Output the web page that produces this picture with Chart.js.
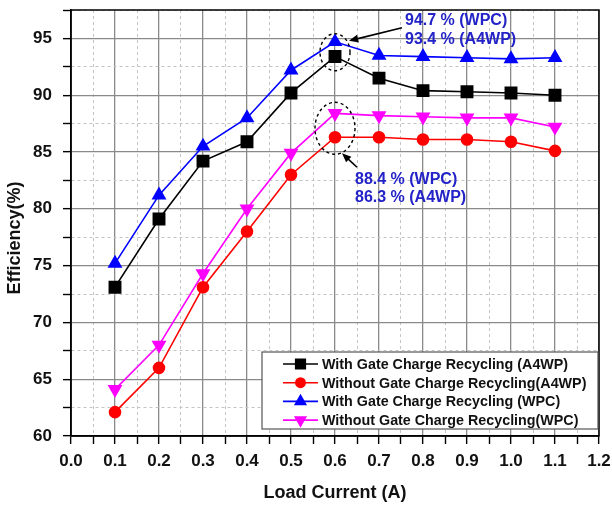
<!DOCTYPE html>
<html>
<head>
<meta charset="utf-8">
<script src="https://cdn.jsdelivr.net/npm/chart.js"></script>
<style>
html, body { margin: 0; padding: 0; background: #fff; }
</style>
</head>
<body>
<canvas id="eff-chart" width="612" height="506"></canvas>
<script>
// data
const loadCurrent = [0.1, 0.2, 0.3, 0.4, 0.5, 0.6, 0.7, 0.8, 0.9, 1.0, 1.1];
const withA4WP = [73.1, 79.1, 84.2, 85.9, 90.2, 93.4, 91.5, 90.4, 90.3, 90.2, 90.0];
const withoutA4WP = [62.1, 66.0, 73.1, 78.0, 83.0, 86.3, 86.3, 86.1, 86.1, 85.9, 85.1];
const withWPC = [75.2, 81.2, 85.5, 88.0, 92.2, 94.7, 93.5, 93.4, 93.3, 93.2, 93.3];
const withoutWPC = [64.1, 68.0, 74.3, 80.0, 84.9, 88.4, 88.2, 88.1, 88.0, 88.0, 87.2];
const seriesLabels = [
    'With Gate Charge Recycling (A4WP)',
    'Without Gate Charge Recycling(A4WP)',
    'With Gate Charge Recycling (WPC)',
    'Without Gate Charge Recycling(WPC)'
];
const xTickLabels = ['0.0', '0.1', '0.2', '0.3', '0.4', '0.5', '0.6', '0.7', '0.8', '0.9', '1.0', '1.1', '1.2'];
const yTickLabels = ['60', '65', '70', '75', '80', '85', '90', '95'];
const yTitle = 'Efficiency(%)';
const peakLoad = 0.6;
const peakNotes = ['94.7 % (WPC)', '93.4 % (A4WP)'];
const lowNotes = ['88.4 % (WPC)', '86.3 % (A4WP)'];

const FONT = "'Liberation Sans', Arial, sans-serif";
const MAJOR = '#8a8a8a';
const MINOR = '#c4c4c4';

function pts(vals) {
    return loadCurrent.map((x, i) => ({ x: x, y: vals[i] }));
}

function series(label, vals, color, style, radius, rot) {
    return {
        label: label,
        data: pts(vals),
        borderColor: color,
        backgroundColor: color,
        pointBackgroundColor: color,
        pointBorderColor: color,
        pointStyle: style,
        pointRadius: radius,
        pointRotation: rot || 0,
        borderWidth: 1.6,
        tension: 0
    };
}

// no automatic label padding, the plot box is fixed
function noPad(s) {
    s.paddingTop = 0;
    s.paddingBottom = 0;
    s.paddingLeft = 0;
    s.paddingRight = 0;
}

// frame, y title, dashed ellipses, arrows and the notes
const notesPlugin = {
    id: 'notes',
    afterDatasetsDraw(chart) {
        const { ctx, chartArea: a, scales: { x, y } } = chart;
        ctx.save();
        ctx.strokeStyle = '#000';
        ctx.lineWidth = 1.5;
        ctx.strokeRect(a.left, a.top, a.right - a.left, a.bottom - a.top);

        // y axis title, sits a little below the middle like the original
        ctx.save();
        ctx.translate(15, (a.top + a.bottom) / 2 + 15);
        ctx.rotate(-Math.PI / 2);
        ctx.fillStyle = '#111';
        ctx.font = 'bold 18px ' + FONT;
        ctx.textAlign = 'center';
        ctx.textBaseline = 'middle';
        ctx.fillText(yTitle, 0, 0);
        ctx.restore();

        const px = x.getPixelForValue(peakLoad);
        const i = loadCurrent.indexOf(peakLoad);
        const yTop = y.getPixelForValue(withWPC[i]);
        const yMid = (yTop + y.getPixelForValue(withA4WP[i])) / 2;
        const yLowTop = y.getPixelForValue(withoutWPC[i]);
        const yLow = y.getPixelForValue(withoutA4WP[i]);
        const yLowMid = (yLowTop + yLow) / 2;

        ctx.setLineDash([3, 3]);
        ctx.lineWidth = 1.4;
        ctx.beginPath();
        ctx.ellipse(px, yMid + 3, 15, 18.5, 0, 0, Math.PI * 2);
        ctx.stroke();
        ctx.beginPath();
        ctx.ellipse(px, yLowMid + 3, 20, 26, 0, 0, Math.PI * 2);
        ctx.stroke();
        ctx.setLineDash([]);

        function arrow(x0, y0, x1, y1) {
            const ang = Math.atan2(y1 - y0, x1 - x0);
            ctx.beginPath();
            ctx.moveTo(x0, y0);
            ctx.lineTo(x1 - Math.cos(ang) * 6, y1 - Math.sin(ang) * 6);
            ctx.stroke();
            ctx.beginPath();
            ctx.moveTo(x1, y1);
            ctx.lineTo(x1 - Math.cos(ang - 0.4) * 10, y1 - Math.sin(ang - 0.4) * 10);
            ctx.lineTo(x1 - Math.cos(ang + 0.4) * 10, y1 - Math.sin(ang + 0.4) * 10);
            ctx.closePath();
            ctx.fill();
        }
        ctx.fillStyle = '#000';
        ctx.lineWidth = 1.6;
        arrow(px + 67, yTop - 14, px + 14, yTop - 1);
        arrow(px + 22, yLow + 30, px + 7, yLow + 16);

        ctx.fillStyle = '#2323c8';
        ctx.font = 'bold 16px ' + FONT;
        ctx.textBaseline = 'middle';
        ctx.textAlign = 'left';
        ctx.fillText(peakNotes[0], px + 70, yTop - 21);
        ctx.fillText(peakNotes[1], px + 70, yTop - 2);
        ctx.fillText(lowNotes[0], px + 20, yLow + 42);
        ctx.fillText(lowNotes[1], px + 20, yLow + 60);
        ctx.restore();
    }
};

// boxed legend in the lower right corner of the plot
const boxLegend = {
    id: 'boxLegend',
    afterDraw(chart) {
        const { ctx, chartArea: a } = chart;
        const bx = a.right - 337, by = a.bottom - 84, bw = 336, bh = 77;
        ctx.save();
        ctx.fillStyle = '#fff';
        ctx.fillRect(bx, by, bw, bh);
        ctx.strokeStyle = '#555';
        ctx.lineWidth = 1.2;
        ctx.strokeRect(bx, by, bw, bh);
        ctx.font = 'bold 14.3px ' + FONT;
        ctx.textBaseline = 'middle';
        chart.data.datasets.forEach((ds, k) => {
            const ry = by + 12 + k * 18.7;
            ctx.strokeStyle = ds.borderColor;
            ctx.lineWidth = 1.6;
            ctx.beginPath();
            ctx.moveTo(bx + 21, ry);
            ctx.lineTo(bx + 56, ry);
            ctx.stroke();
            Chart.helpers.drawPoint(ctx, {
                pointStyle: ds.pointStyle,
                radius: ds.pointRadius * 0.85,
                rotation: ds.pointRotation,
                borderWidth: 1
            }, bx + 38.5, ry);
            ctx.fillStyle = ds.borderColor;
            ctx.fill();
            ctx.fillStyle = '#111';
            ctx.fillText(ds.label, bx + 60, ry + 1);
        });
        ctx.restore();
    }
};

const tickFont = { family: FONT, size: 17, weight: 'bold' };
const titleFont = { family: FONT, size: 18, weight: 'bold' };

new Chart(document.getElementById('eff-chart').getContext('2d'), {
    type: 'line',
    data: {
        datasets: [
            series(seriesLabels[0], withA4WP, '#000000', 'rect', 8),
            series(seriesLabels[1], withoutA4WP, '#ff0000', 'circle', 5.5),
            series(seriesLabels[2], withWPC, '#0000ff', 'triangle', 7),
            series(seriesLabels[3], withoutWPC, '#ff00ff', 'triangle', 7, 180)
        ]
    },
    options: {
        responsive: false,
        animation: false,
        layout: { autoPadding: false, padding: { top: 10, right: 13, left: 0, bottom: 0 } },
        plugins: {
            legend: { display: false },
            tooltip: { enabled: false }
        },
        scales: {
            x: {
                type: 'linear',
                min: 0,
                max: 1.2,
                afterFit: s => { s.height = 70; noPad(s); },
                ticks: {
                    stepSize: 0.05,
                    autoSkip: false,
                    maxRotation: 0,
                    padding: 7,
                    color: '#111',
                    font: tickFont,
                    callback: (v, i) => i % 2 === 0 ? xTickLabels[i / 2] : ''
                },
                grid: {
                    color: c => c.index % 2 === 0 ? MAJOR : MINOR,
                    lineWidth: c => c.index % 2 === 0 ? 1.3 : 1,
                    tickColor: '#000',
                    tickLength: 8,
                    tickWidth: 1.4
                },
                border: {
                    color: '#000',
                    width: 1.5,
                    dash: c => (c.index !== undefined && c.index % 2 === 1) ? [3, 3] : []
                },
                title: {
                    display: true,
                    text: 'Load Current (A)',
                    color: '#111',
                    font: titleFont,
                    padding: { top: 4, bottom: 2 }
                }
            },
            y: {
                min: 60,
                max: 97.5,
                afterFit: s => { s.width = 71; noPad(s); },
                ticks: {
                    stepSize: 2.5,
                    autoSkip: false,
                    padding: 11,
                    color: '#111',
                    font: tickFont,
                    callback: (v, i) => i % 2 === 0 ? yTickLabels[i / 2] : ''
                },
                grid: {
                    color: c => c.index % 2 === 0 ? MAJOR : MINOR,
                    lineWidth: c => c.index % 2 === 0 ? 1.3 : 1,
                    tickColor: '#000',
                    tickLength: 8,
                    tickWidth: 1.4
                },
                border: {
                    color: '#000',
                    width: 1.5,
                    dash: c => (c.index !== undefined && c.index % 2 === 1) ? [3, 3] : []
                },
                title: { display: false }
            }
        }
    },
    plugins: [notesPlugin, boxLegend]
});
</script>
</body>
</html>
